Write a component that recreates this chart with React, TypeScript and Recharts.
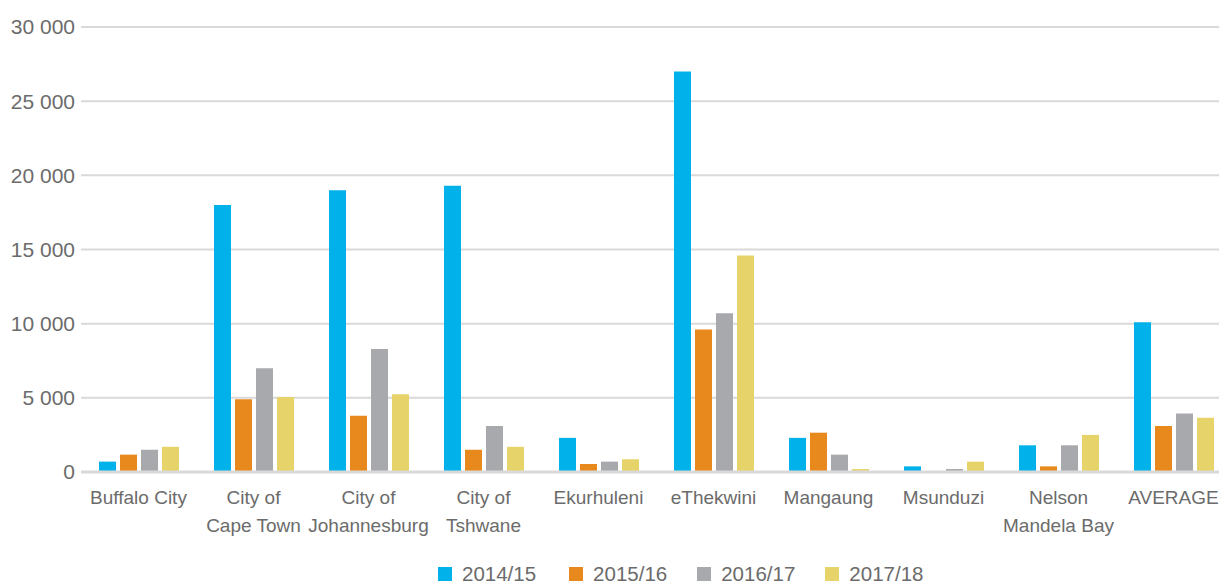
import { Bar, BarChart, CartesianGrid, Legend, XAxis, YAxis } from 'recharts';

const CATEGORIES = [
  'Buffalo City',
  'City of\nCape Town',
  'City of\nJohannesburg',
  'City of\nTshwane',
  'Ekurhuleni',
  'eThekwini',
  'Mangaung',
  'Msunduzi',
  'Nelson\nMandela Bay',
  'AVERAGE',
];

const Y2014 = [700, 18000, 19000, 19300, 2300, 27000, 2300, 380, 1800, 10100];
const Y2015 = [1170, 4900, 3800, 1500, 540, 9600, 2650, 0, 380, 3100];
const Y2016 = [1500, 7000, 8300, 3100, 700, 10700, 1170, 200, 1800, 3950];
const Y2017 = [1700, 5050, 5250, 1700, 860, 14600, 200, 700, 2500, 3650];

const SERIES = [
  { key: 'y2014', name: '2014/15', color: '#00b1ea' },
  { key: 'y2015', name: '2015/16', color: '#e8891e' },
  { key: 'y2016', name: '2016/17', color: '#a8a9ac' },
  { key: 'y2017', name: '2017/18', color: '#e6d46a' },
];

const Y_TICKS = [0, 5000, 10000, 15000, 20000, 25000, 30000];

const data = CATEGORIES.map((name, i) => ({
  name,
  y2014: Y2014[i],
  y2015: Y2015[i],
  y2016: Y2016[i],
  y2017: Y2017[i],
}));

const TEXT = '#6b6b6b';
const FONT = '"Liberation Sans", Arial, sans-serif';

const fmt = (v: number) => String(v).replace(/\B(?=(\d{3})+(?!\d))/g, ' ');

function CategoryTick({ x, y, payload }: any) {
  const lines = String(payload.value).split('\n');
  return (
    <text x={x} y={y} textAnchor="middle" fill={TEXT} fontSize={19} fontFamily={FONT}>
      {lines.map((line, i) => (
        <tspan key={i} x={x} dy={i === 0 ? 24 : 28}>
          {line}
        </tspan>
      ))}
    </text>
  );
}

function LegendContent() {
  return (
    <div
      style={{
        display: 'flex',
        paddingLeft: 430,
        paddingTop: 21,
        fontFamily: FONT,
        fontSize: 20.5,
        lineHeight: '22px',
        color: TEXT,
      }}
    >
      {SERIES.map((s, i) => (
        <div key={s.key} style={{ display: 'flex', alignItems: 'center', marginRight: i === 0 ? 33 : 30 }}>
          <span style={{ width: 14, height: 14, background: s.color, marginRight: 10, display: 'inline-block' }} />
          <span>{s.name}</span>
        </div>
      ))}
    </div>
  );
}

export default function App() {
  return (
    <div style={{ position: 'absolute', left: 0, top: 0, width: 1219, height: 584, overflow: 'hidden' }}>
      <BarChart
        width={1231}
        height={584}
        data={data}
        margin={{ top: 27, right: 0, left: 8, bottom: 0 }}
        barSize={17}
        barGap={4}
      >
        <CartesianGrid vertical={false} stroke="#d9d9d9" strokeWidth={2} />
        <XAxis
          dataKey="name"
          interval={0}
          height={70}
          tickLine={false}
          axisLine={{ stroke: '#d9d9d9', strokeWidth: 3 }}
          tick={<CategoryTick />}
        />
        <YAxis
          width={73}
          domain={[0, 30000]}
          ticks={Y_TICKS}
          tickFormatter={fmt}
          tickLine={false}
          axisLine={false}
          tickMargin={0}
          tick={{ fontSize: 21, fill: TEXT, fontFamily: FONT }}
        />
        <Legend verticalAlign="bottom" content={<LegendContent />} wrapperStyle={{ height: 42 }} />
        {SERIES.map((s) => (
          <Bar key={s.key} dataKey={s.key} name={s.name} fill={s.color} isAnimationActive={false} />
        ))}
      </BarChart>
    </div>
  );
}
